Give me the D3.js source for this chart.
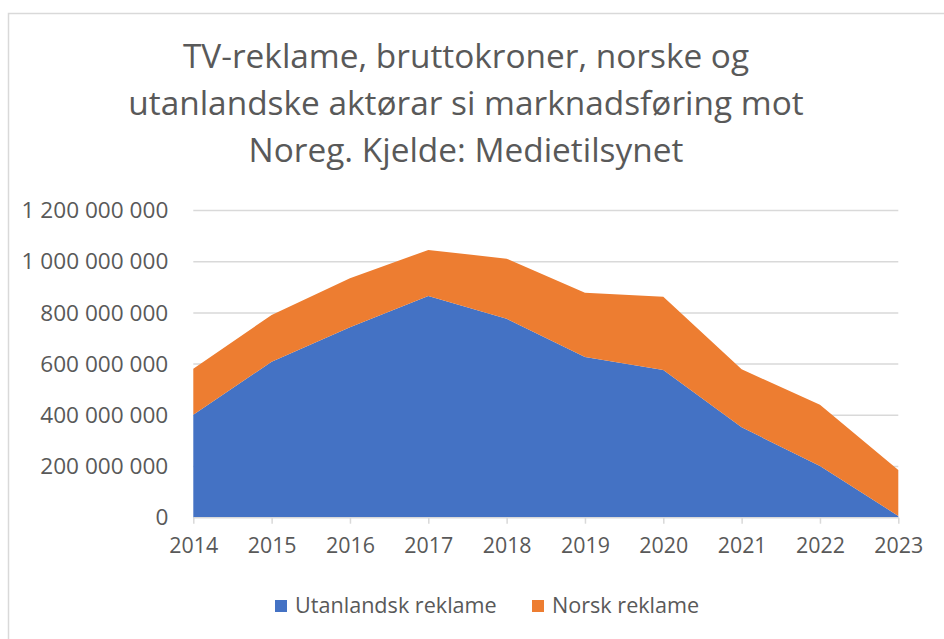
<!DOCTYPE html>
<html>
<head>
<meta charset="utf-8">
<script src="https://cdn.jsdelivr.net/npm/d3@7"></script>
<style>
  body { margin: 0; background: #fff; }
  text { font-family: "Open Sans", sans-serif; fill: #595959; }
</style>
</head>
<body>
<div id="chart"></div>
<script>
// data
var years = [2014, 2015, 2016, 2017, 2018, 2019, 2020, 2021, 2022, 2023];
var utanlandsk = [402e6, 609e6, 744e6, 866e6, 777e6, 628e6, 577e6, 353e6, 202e6, 7e6];
var norsk = [180e6, 183e6, 191e6, 180e6, 235e6, 251e6, 286e6, 227e6, 239e6, 179e6];
var yTicks = [0, 200e6, 400e6, 600e6, 800e6, 1000e6, 1200e6];
var seriesNames = ["Utanlandsk reklame", "Norsk reklame"];
var colors = ["#4472C4", "#ED7D31"];
var titleLines = ["TV-reklame, bruttokroner, norske og",
                  "utanlandske aktørar si marknadsføring mot",
                  "Noreg. Kjelde: Medietilsynet"];

var width = 944, height = 639;
var plot = { left: 193.3, right: 898.3, top: 210.5, bottom: 517.7 };

var svg = d3.select("#chart").append("svg")
    .attr("width", width)
    .attr("height", height);

// chart frame
svg.append("rect")
    .attr("x", 8.5).attr("y", 13.5)
    .attr("width", 960).attr("height", 660)
    .attr("fill", "none")
    .attr("stroke", "#d9d9d9")
    .attr("stroke-width", 1.5);

// title
svg.append("g").selectAll("text")
    .data(titleLines)
  .enter().append("text")
    .attr("x", 466)
    .attr("y", function(d, i) { return 68 + i * 47; })
    .attr("text-anchor", "middle")
    .style("font-size", "33.4px")
    .text(function(d) { return d; });

var x = d3.scalePoint()
    .domain(years)
    .range([plot.left, plot.right]);

var y = d3.scaleLinear()
    .domain([0, 1200e6])
    .range([plot.bottom, plot.top]);

var fmt = function(v) { return d3.format(",")(v).replace(/,/g, " "); };

// gridlines
svg.append("g").selectAll("line")
    .data(yTicks.slice(1))
  .enter().append("line")
    .attr("x1", plot.left).attr("x2", plot.right)
    .attr("y1", function(d) { return y(d); })
    .attr("y2", function(d) { return y(d); })
    .attr("stroke", "#d9d9d9")
    .attr("stroke-width", 1.5);

// stacked areas
var table = years.map(function(yr, i) {
  return { year: yr, "Utanlandsk reklame": utanlandsk[i], "Norsk reklame": norsk[i] };
});
var stack = d3.stack().keys(seriesNames)(table);

var area = d3.area()
    .x(function(d) { return x(d.data.year); })
    .y0(function(d) { return y(d[0]); })
    .y1(function(d) { return y(d[1]); });

svg.append("g").selectAll("path")
    .data(stack)
  .enter().append("path")
    .attr("d", area)
    .attr("fill", function(d, i) { return colors[i]; });

// y axis labels
var yAxis = d3.axisLeft(y)
    .tickValues(yTicks)
    .tickSize(0)
    .tickPadding(25)
    .tickFormat(fmt);

var gy = svg.append("g")
    .attr("transform", "translate(" + plot.left + ",0)")
    .call(yAxis);
gy.select(".domain").remove();
gy.selectAll("text")
    .style("font-size", "22.6px")
    .style("font-family", "'Open Sans', sans-serif")
    .attr("fill", "#595959");

// x axis
var xAxis = d3.axisBottom(x)
    .tickSize(6)
    .tickPadding(14);

var gx = svg.append("g")
    .attr("transform", "translate(0," + plot.bottom + ")")
    .call(xAxis);
gx.select(".domain")
    .attr("stroke", "#d9d9d9")
    .attr("stroke-width", 1.5)
    .attr("d", "M" + plot.left + ",0H" + plot.right);
gx.selectAll(".tick line")
    .attr("stroke", "#d9d9d9")
    .attr("stroke-width", 1.5);
gx.selectAll("text")
    .style("font-size", "21.4px")
    .style("font-family", "'Open Sans', sans-serif")
    .attr("fill", "#595959");

// legend
var legendItems = [{ name: seriesNames[0], x: 275 }, { name: seriesNames[1], x: 532 }];
var legend = svg.append("g").selectAll("g")
    .data(legendItems)
  .enter().append("g")
    .attr("transform", function(d) { return "translate(" + d.x + ",600)"; });

legend.append("rect")
    .attr("width", 12).attr("height", 12)
    .attr("fill", function(d, i) { return colors[i]; });

legend.append("text")
    .attr("x", 20)
    .attr("y", 13)
    .style("font-size", "21.6px")
    .text(function(d) { return d.name; });
</script>
</body>
</html>
